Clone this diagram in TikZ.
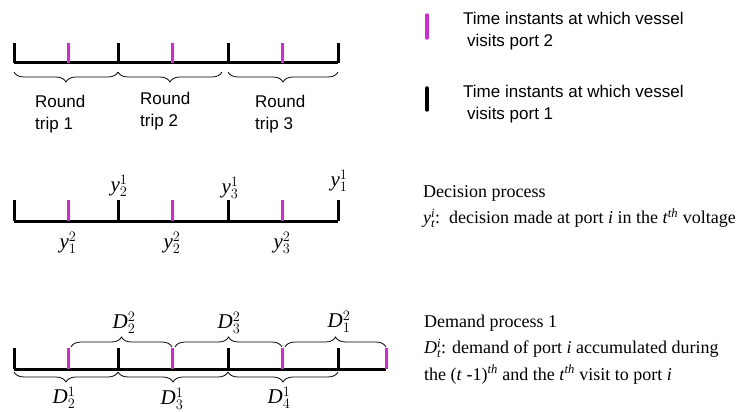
\documentclass[tikz,border=0pt]{standalone}
\usepackage{fontspec}
\setmainfont{Liberation Serif}
\newfontfamily\arialf{Liberation Sans}
\usetikzlibrary{decorations.pathreplacing,calc}
\definecolor{mag}{RGB}{205,45,205}
\newcommand\twolines[2]{\begin{tabular}[t]{@{}l@{}}#1\\#2\end{tabular}}
\newcommand\threelines[3]{\begin{tabular}[t]{@{}l@{}}#1\\#2\\#3\end{tabular}}
\begin{document}
\begin{tikzpicture}[x=1pt,y=-1pt,
  axisline/.style={line width=3pt},
  tickone/.style={line width=3pt,black},
  ticktwo/.style={line width=3pt,mag},
  brcup/.style={decorate,decoration={brace,amplitude=10pt},line width=0.8pt},
  brcdown/.style={decorate,decoration={brace,amplitude=10pt,mirror},line width=0.8pt},
  sanstext/.style={font=\arialf\fontsize{17}{22}\selectfont,inner sep=0pt,anchor=base west},
  seriftext/.style={font=\fontsize{18}{26.5}\selectfont,inner sep=0pt,anchor=base west},
  lab/.style={font=\fontsize{21}{24}\selectfont,inner sep=0pt}]
\useasboundingbox[fill=white] (0,0) rectangle (740,412);

% ---------- Row 1: round trips ----------
\foreach \n/\x in {a/14,b/118,c/228,d/338,p/68,q/172,r/282}{\coordinate (A\n) at (\x,63);}
\coordinate (Ab2) at (222,63);
\draw[axisline] (Aa) -- (Ad);
\foreach \n in {a,b,c,d} \draw[tickone] (A\n) -- ++(0,-20);
\foreach \n in {p,q,r} \draw[ticktwo] (A\n) -- ++(0,-20);
\draw[brcdown] ($(Aa)+(0,9)$) -- ($(Ab)+(0,9)$);
\draw[brcdown] ($(Ab)+(0,9)$) -- ($(Ab2)+(0,9)$);
\draw[brcdown] ($(Ac)+(0,9)$) -- ($(Ad)+(0,9)$);
\node[sanstext] (rt1) at (35,108) {\twolines{Round}{trip 1}};
\node[sanstext] (rt2) at (140,105) {\twolines{Round}{trip 2}};
\node[sanstext] (rt3) at (255,108) {\twolines{Round}{trip 3}};

% ---------- Row 2: decision process ----------
\foreach \n/\x in {a/14,b/118,c/228,d/338,p/68,q/172,r/282}{\coordinate (B\n) at (\x,221);}
\draw[axisline] (Ba) -- (Bd);
\foreach \n in {a,b,c,d} \draw[tickone] (B\n) -- ++(0,-21);
\foreach \n in {p,q,r} \draw[ticktwo] (B\n) -- ++(0,-21);
\node[lab] (y21) at (119,186) {$\mathit{y}_2^1$};
\node[lab] (y31) at (230,188) {$\mathit{y}_3^1$};
\node[lab] (y11) at (339,181) {$\mathit{y}_1^1$};
\node[lab] (y12) at (68,243) {$\mathit{y}_1^2$};
\node[lab] (y22) at (172,243) {$\mathit{y}_2^2$};
\node[lab] (y32) at (282,243) {$\mathit{y}_3^2$};

% ---------- Row 3: demand process ----------
\foreach \n/\x in {a/14,b/118,c/228,d/338,p/68,q/172,r/282,s/386}{\coordinate (C\n) at (\x,369);}
\coordinate (Cp2) at (71,369);
\coordinate (Cq2) at (175,369);
\coordinate (Cr2) at (285,369);
\draw[axisline] (Ca) -- (Cs);
\foreach \n in {a,b,c,d} \draw[tickone] (C\n) -- ++(0,-21);
\foreach \n in {p,q,r,s} \draw[ticktwo] (C\n) -- ++(0,-21);
\draw[brcup] ($(Cp2)+(0,-22)$) -- ($(Cq)+(0,-22)$);
\draw[brcup] ($(Cq2)+(0,-22)$) -- ($(Cr)+(0,-22)$);
\draw[brcup] ($(Cr2)+(0,-22)$) -- ($(Cs)+(0,-22)$);
\draw[brcdown] ($(Ca)+(0,3)$) -- ($(Cb)+(0,3)$);
\draw[brcdown] ($(Cb)+(0,3)$) -- ($(Cc)+(0,3)$);
\draw[brcdown] ($(Cc)+(0,3)$) -- ($(Cd)+(0,3)$);
\node[lab] (D22) at (124,323) {$\mathit{D}_2^2$};
\node[lab] (D32) at (229,323) {$\mathit{D}_3^2$};
\node[lab] (D12) at (339,322) {$\mathit{D}_1^2$};
\node[lab] (D21) at (64,398) {$\mathit{D}_2^1$};
\node[lab] (D31) at (172,399) {$\mathit{D}_3^1$};
\node[lab] (D41) at (279,398) {$\mathit{D}_4^1$};

% ---------- Legend ----------
\coordinate (L2a) at (427,15);
\coordinate (L2b) at (427,38);
\coordinate (L1a) at (427,88);
\coordinate (L1b) at (427,110);
\draw[ticktwo,line width=3.5pt,line cap=round] (L2a) -- (L2b);
\draw[tickone,line width=3.5pt,line cap=round] (L1a) -- (L1b);
\node[sanstext] (leg2) at (463,25) {\twolines{Time instants at which vessel}{\hspace{4pt}visits port 2}};
\node[sanstext] (leg1) at (463,98) {\twolines{Time instants at which vessel}{\hspace{4pt}visits port 1}};

\node[seriftext] (dec) at (423,197) {\twolines{Decision process}{$\mathit{y}_{\mathit{t}}^{\mathit{i}}$:\ \ decision made at port \textit{i} in the \textit{t}$^{\mathit{th}}$ voltage}};
\node[seriftext] (dem) at (424,327) {\threelines{Demand process 1}{$\mathit{D}_{\mathit{t}}^{\mathit{i}}$: demand of port \textit{i} accumulated during}{the (\textit{t} -1)$^{\mathit{th}}$ and the \textit{t}$^{\mathit{th}}$ visit to port \textit{i}}};
\end{tikzpicture}
\end{document}
